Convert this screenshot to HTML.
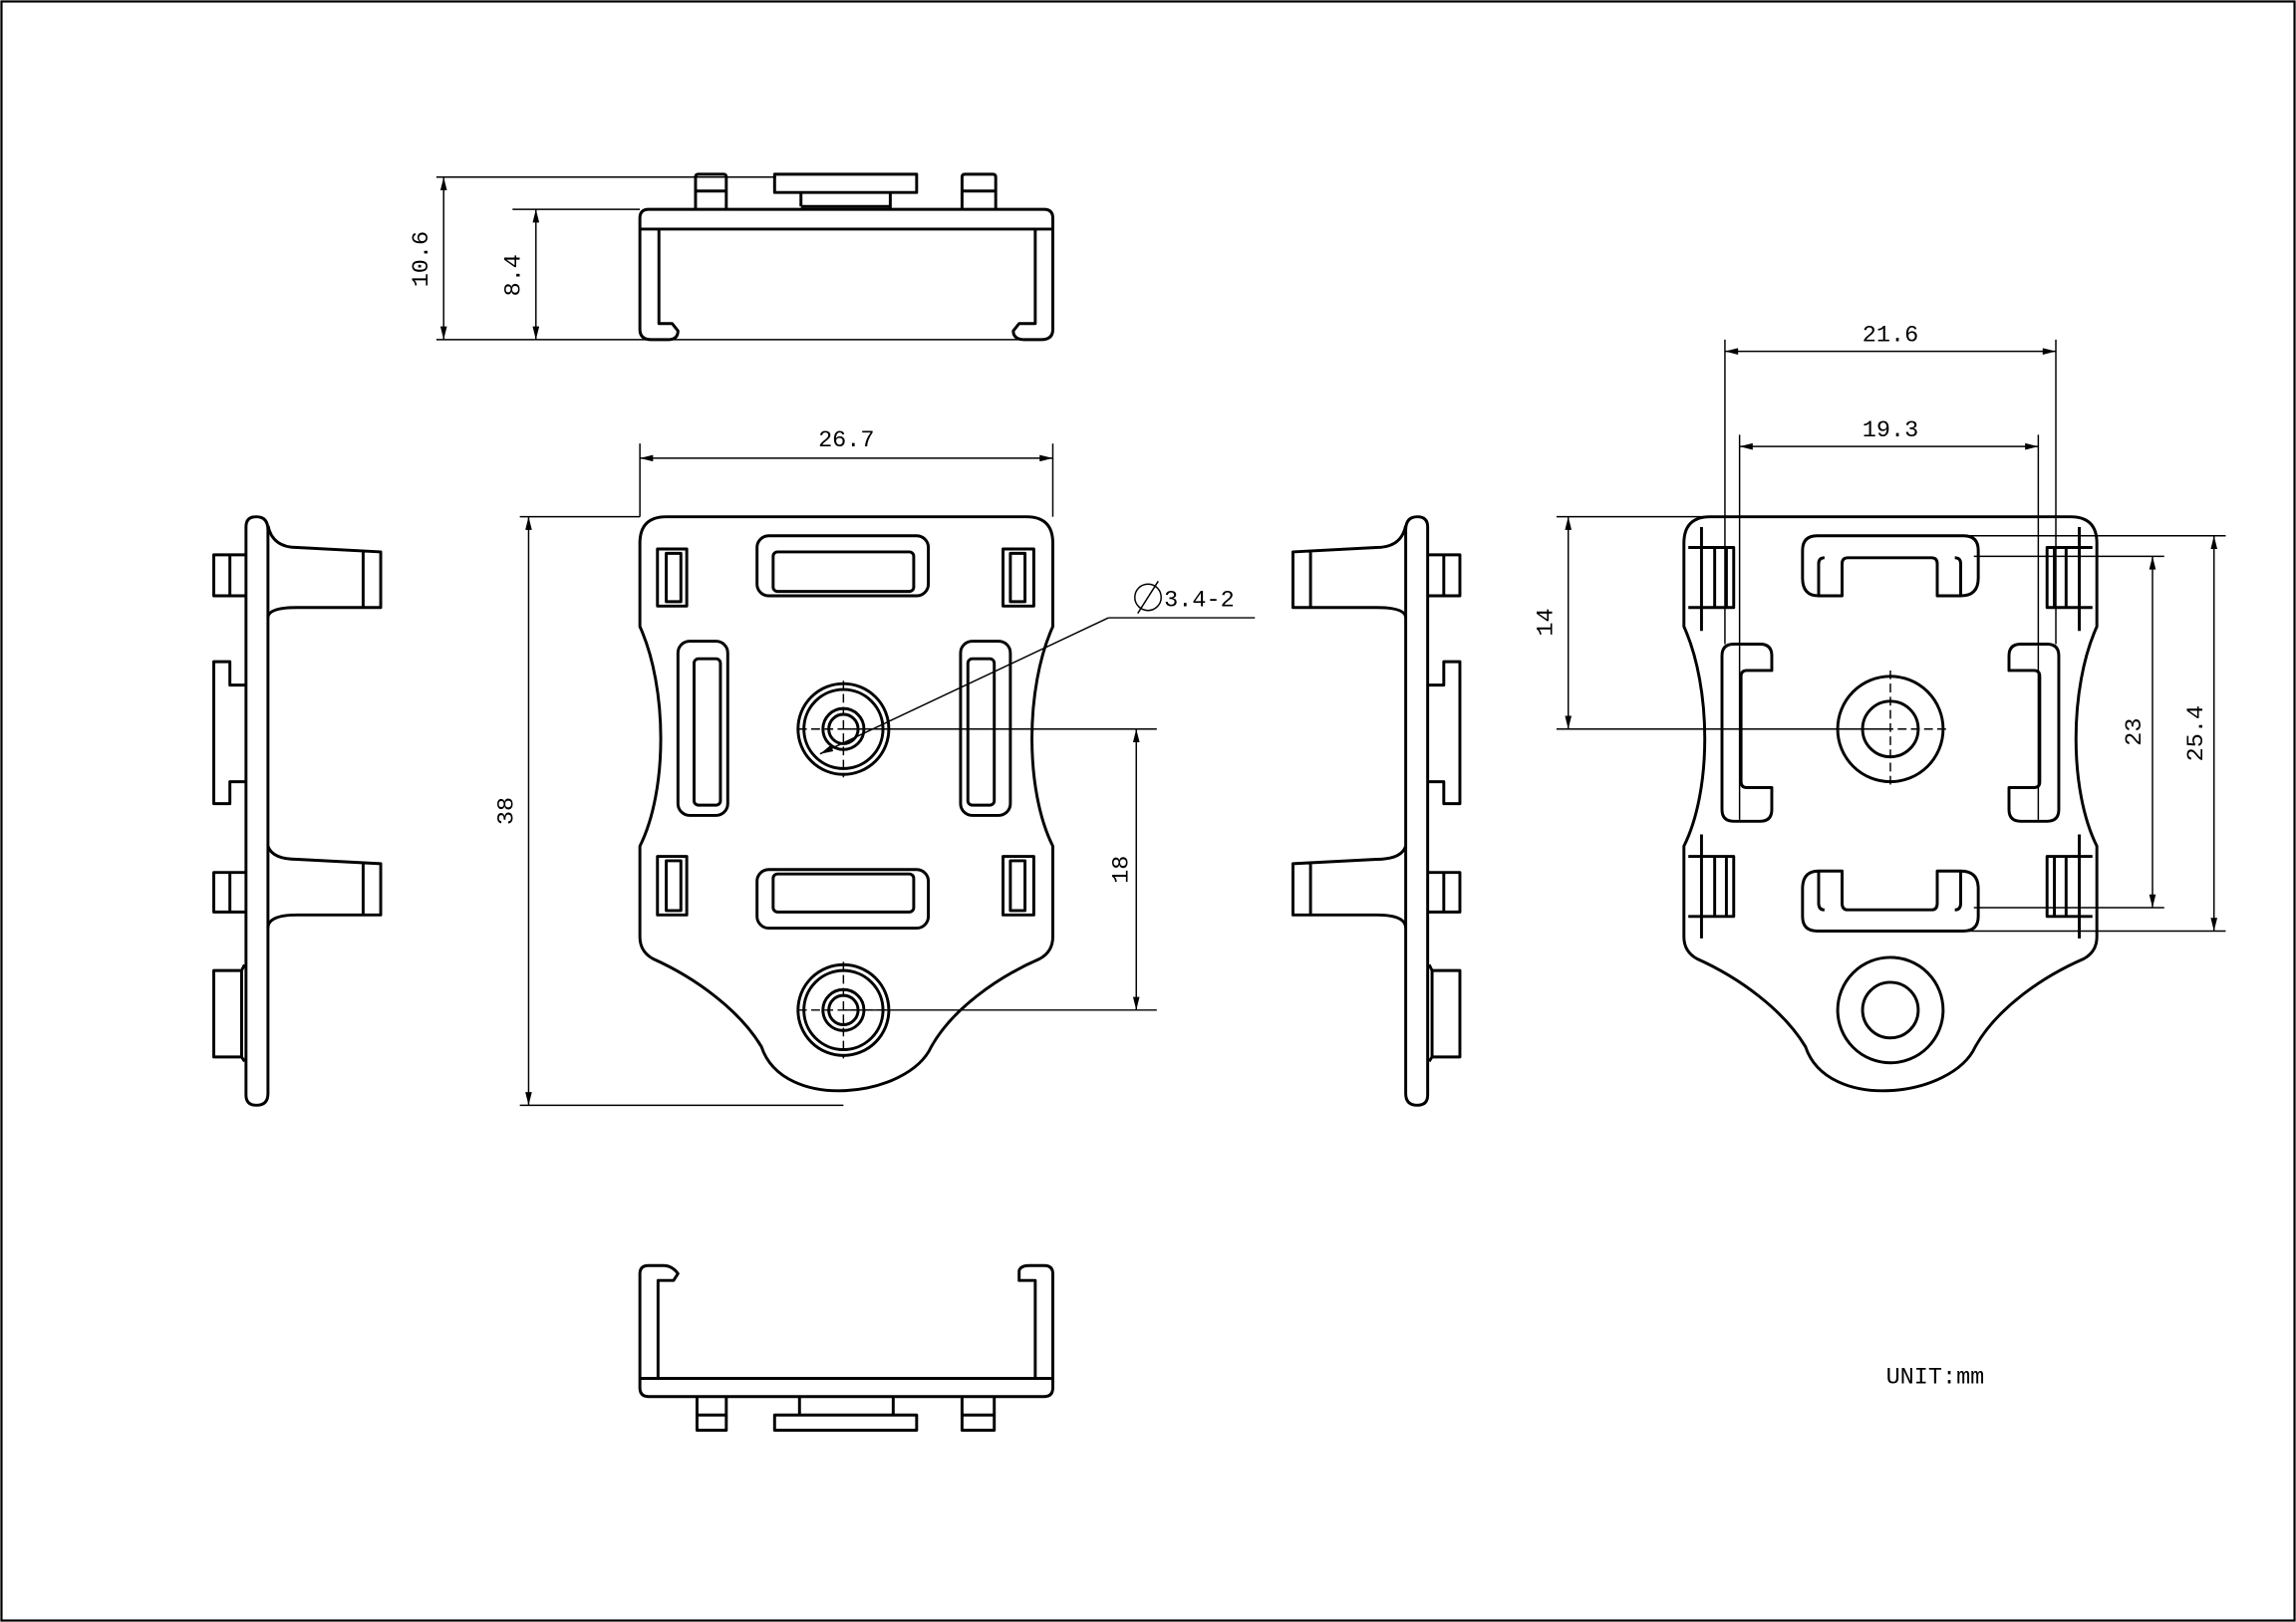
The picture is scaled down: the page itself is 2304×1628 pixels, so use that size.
<!DOCTYPE html>
<html><head><meta charset="utf-8"><style>html,body{margin:0;padding:0;background:#fff}svg{display:block}</style></head>
<body>
<svg width="2304" height="1628" viewBox="0 0 1568 1108" preserveAspectRatio="none" xmlns="http://www.w3.org/2000/svg">
<defs>
<marker id="a" viewBox="0 0 12 6" refX="12" refY="3" markerWidth="12" markerHeight="4.5" markerUnits="userSpaceOnUse" orient="auto-start-reverse"><path d="M0 0 L12 3 L0 6z" fill="#000"/></marker>
</defs>
<rect x="1" y="1" width="1566" height="1106" fill="#fff" stroke="#000" stroke-width="1.5"/>
<g fill="none" stroke="#000" stroke-width="2" stroke-linejoin="round">
<!-- FRONT -->
<path d="M455 353 L701 353 Q719 353 719 371 L719 428 C700 470 700 540 719 578 L719 640 Q719 650 710 655 C680 668 650 690 636 715 C620 750 535 760 520 715 C505 690 475 668 446 655 Q437 650 437 640 L437 578 C456 540 456 470 437 428 L437 371 Q437 353 455 353 Z"/>
<rect x="517" y="366" width="117" height="41" rx="8"/><rect x="528" y="377" width="96" height="27" rx="3"/>
<rect x="517" y="594" width="117" height="40" rx="8"/><rect x="528" y="597" width="96" height="26" rx="3"/>
<rect x="449" y="375" width="20" height="39"/><rect x="455" y="378" width="10" height="33"/>
<rect x="685" y="375" width="21" height="39"/><rect x="690" y="378" width="10" height="33"/>
<rect x="449" y="585" width="20" height="40"/><rect x="455" y="588" width="10" height="34"/>
<rect x="685" y="585" width="21" height="40"/><rect x="690" y="588" width="10" height="34"/>
<rect x="463" y="438" width="34" height="119" rx="8"/><rect x="474" y="450" width="18" height="100" rx="3"/>
<rect x="656" y="438" width="34" height="119" rx="8"/><rect x="661" y="450" width="18" height="100" rx="3"/>
<circle cx="576" cy="498" r="31"/><circle cx="576" cy="498" r="27"/><circle cx="576" cy="498" r="14"/><circle cx="576" cy="498" r="10"/>
<circle cx="576" cy="690" r="31"/><circle cx="576" cy="690" r="27"/><circle cx="576" cy="690" r="14"/><circle cx="576" cy="690" r="10"/>
<!-- TOP VIEW -->
<path d="M443 143 H713 Q719 143 719 149 V225 Q719 232 711 232 H700 Q692 232 692 226 L696 221 H707 V156.5 M443 143 Q437 143 437 149 V225 Q437 232 445 232 H456 Q463 232 463 226 L459 221 H450 V156.5 M437 156.5 H719"/>
<path d="M475 143 V121 Q475 119 477 119 H494 Q496 119 496 121 V143 M475 130.5 H496 M657 143 V121 Q657 119 659 119 H678 Q680 119 680 121 V143 M657 130.5 H680 M547 141 V131.5 H529 V119 H626 V131.5 H608 V143 M547 131.5 H608 M547 141 H608"/>
<!-- BOTTOM VIEW -->
<path d="M443 954 H713 Q719 954 719 948 V870 Q719 864.5 713 864.5 H703 Q697 864.5 696 868 L696 874.7 H707 V941.6 M443 954 Q437 954 437 948 V870 Q437 864.5 443 864.5 H453 Q459 864.5 463 870 L460 874.7 H449.4 V941.6 M437 941.6 H719"/>
<path d="M476 954 V977 H496 V954 M476 966.6 H496 M657 954 V977 H679 V954 M657 966.6 H679 M546 954 V966.6 M610 954 V966.6 M529 966.6 H626 V977 H529 Z"/>
<!-- LEFT SIDE -->
<path d="M168 360 Q168 353 175 353 Q183 353 183 362 L183 747 Q183 755 175 755 Q168 755 168 748 Z"/>
<path d="M168 379 H146 V407 H168 M157 379 V407 M168 468 H157 V452 H146 V549 H157 V534 H168 M168 596 H146 V623 H168 M157 596 V623 M167 659 L165 663 H146 V722 H165 L167 725 M165 663 V722"/>
<path d="M183 359 Q186 374 203 374 L260 377 V415 L203 415 Q183 415 183 422 M248 377 V415"/>
<path d="M183 578 Q186 587 203 587 L260 590 V625 L203 625 Q183 625 183 634 M248 590 V625"/>
<!-- RIGHT SIDE -->
<path d="M975 360 Q975 353 968 353 Q960 353 960 362 L960 747 Q960 755 968 755 Q975 755 975 748 Z"/>
<path d="M975 379 H997 V407 H975 M986 379 V407 M975 468 H986 V452 H997 V549 H986 V534 H975 M975 596 H997 V623 H975 M986 596 V623 M976 659 L978 663 H997 V722 H978 L976 725 M978 663 V722"/>
<path d="M960 359 Q957 374 940 374 L883 377 V415 L940 415 Q960 415 960 422 M895 377 V415"/>
<path d="M960 578 Q957 587 940 587 L883 590 V625 L940 625 Q960 625 960 634 M895 590 V625"/>
<!-- BACK -->
<path d="M1168 353 L1414 353 Q1432 353 1432 371 L1432 428 C1413 470 1413 540 1432 578 L1432 640 Q1432 650 1423 655 C1393 668 1363 690 1349 715 C1333 750 1248 760 1233 715 C1218 690 1188 668 1159 655 Q1150 650 1150 640 L1150 578 C1169 540 1169 470 1150 428 L1150 371 Q1150 353 1168 353 Z"/>
<path d="M1153 374 H1184 V415 H1153 M1171 374 V415 M1179 374 V415 M1162 360 V431"/>
<path d="M1153 585 H1184 V626 H1153 M1171 585 V626 M1179 585 V626 M1162 570 V641"/>
<path d="M1429 374 H1398 V415 H1429 M1411 374 V415 M1403 374 V415 M1420 360 V431"/>
<path d="M1429 585 H1398 V626 H1429 M1411 585 V626 M1403 585 V626 M1420 570 V641"/>
<path d="M1258 407 V385 Q1258 381 1262 381 H1319 Q1323 381 1323 385 V407 H1339 Q1351 407 1351 395 V376 Q1351 366 1341 366 H1241 Q1231 366 1231 376 V395 Q1231 407 1242 407 Z M1242 407 V385 Q1242 381 1246 381 M1339 407 V385 Q1339 381 1335 381"/>
<path d="M1258 595 V617 Q1258 621.5 1262 621.5 H1319 Q1323 621.5 1323 617 V595 H1339 Q1351 595 1351 607 V626 Q1351 636 1341 636 H1241 Q1231 636 1231 626 V607 Q1231 595 1242 595 Z M1242 595 V617 Q1242 621.5 1246 621.5 M1339 595 V617 Q1339 621.5 1335 621.5"/>
<path d="M1210 458 V448 Q1210 440 1202 440 H1184 Q1176 440 1176 448 V553 Q1176 561 1184 561 H1202 Q1210 561 1210 553 V538 H1193 Q1189 538 1189 534 V462 Q1189 458 1193 458 Z"/>
<path d="M1372 458 V448 Q1372 440 1380 440 H1398 Q1406 440 1406 448 V553 Q1406 561 1398 561 H1380 Q1372 561 1372 553 V538 H1389 Q1393 538 1393 534 V462 Q1393 458 1389 458 Z"/>
<circle cx="1291" cy="498" r="36"/><circle cx="1291" cy="498" r="19"/>
<circle cx="1291" cy="690" r="36"/><circle cx="1291" cy="690" r="19"/>
</g>
<!-- dimension lines -->
<g fill="none" stroke="#000" stroke-width="1">
<line x1="298" y1="121" x2="530" y2="121"/><line x1="350" y1="143" x2="437" y2="143"/><line x1="298" y1="232" x2="700" y2="232"/>
<line x1="303" y1="121" x2="303" y2="232" marker-start="url(#a)" marker-end="url(#a)"/>
<line x1="366" y1="143" x2="366" y2="232" marker-start="url(#a)" marker-end="url(#a)"/>
<line x1="437" y1="303" x2="437" y2="353"/><line x1="719" y1="303" x2="719" y2="353"/>
<line x1="437" y1="313" x2="719" y2="313" marker-start="url(#a)" marker-end="url(#a)"/>
<line x1="355" y1="353" x2="437" y2="353"/><line x1="355" y1="755" x2="576" y2="755"/>
<line x1="361" y1="353" x2="361" y2="755" marker-start="url(#a)" marker-end="url(#a)"/>
<line x1="576" y1="498" x2="790" y2="498"/><line x1="576" y1="690" x2="790" y2="690"/>
<line x1="776" y1="498" x2="776" y2="690" marker-start="url(#a)" marker-end="url(#a)"/>
<line x1="857" y1="422" x2="757" y2="422"/><line x1="757" y1="422" x2="560" y2="515" marker-end="url(#a)"/>
<line x1="576" y1="465" x2="576" y2="531" stroke-dasharray="6 3"/><line x1="545" y1="498" x2="607" y2="498" stroke-dasharray="6 3"/>
<line x1="576" y1="657" x2="576" y2="723" stroke-dasharray="6 3"/><line x1="545" y1="690" x2="607" y2="690" stroke-dasharray="6 3"/>
<line x1="1291" y1="458" x2="1291" y2="538" stroke-dasharray="6 3"/><line x1="1251" y1="498" x2="1331" y2="498" stroke-dasharray="6 3"/>
<line x1="1178" y1="232" x2="1178" y2="440"/><line x1="1404" y1="232" x2="1404" y2="440"/>
<line x1="1178" y1="240" x2="1404" y2="240" marker-start="url(#a)" marker-end="url(#a)"/>
<line x1="1188" y1="297" x2="1188" y2="560"/><line x1="1392" y1="297" x2="1392" y2="560"/>
<line x1="1188" y1="305" x2="1392" y2="305" marker-start="url(#a)" marker-end="url(#a)"/>
<line x1="1063" y1="353" x2="1168" y2="353"/><line x1="1063" y1="498" x2="1291" y2="498"/>
<line x1="1071" y1="353" x2="1071" y2="498" marker-start="url(#a)" marker-end="url(#a)"/>
<line x1="1348" y1="380" x2="1478" y2="380"/><line x1="1348" y1="620" x2="1478" y2="620"/>
<line x1="1470" y1="380" x2="1470" y2="620" marker-start="url(#a)" marker-end="url(#a)"/>
<line x1="1340" y1="366" x2="1520" y2="366"/><line x1="1340" y1="636" x2="1520" y2="636"/>
<line x1="1512" y1="366" x2="1512" y2="636" marker-start="url(#a)" marker-end="url(#a)"/>
<circle cx="784" cy="408" r="9"/><line x1="777" y1="419" x2="791" y2="397"/>
</g>
<g font-family="Liberation Mono, monospace" font-size="16" fill="#000">
<text x="292" y="177" transform="rotate(-90 292 177)" text-anchor="middle">10.6</text>
<text x="355" y="188" transform="rotate(-90 355 188)" text-anchor="middle">8.4</text>
<text x="578" y="305" text-anchor="middle">26.7</text>
<text x="350" y="554" transform="rotate(-90 350 554)" text-anchor="middle">38</text>
<text x="770" y="594" transform="rotate(-90 770 594)" text-anchor="middle">18</text>
<text x="795" y="414">3.4-2</text>
<text x="1291" y="233" text-anchor="middle">21.6</text>
<text x="1291" y="298" text-anchor="middle">19.3</text>
<text x="1060" y="425" transform="rotate(-90 1060 425)" text-anchor="middle">14</text>
<text x="1462" y="500" transform="rotate(-90 1462 500)" text-anchor="middle">23</text>
<text x="1504" y="501" transform="rotate(-90 1504 501)" text-anchor="middle">25.4</text>
<text x="1288" y="945">UNIT:mm</text>
</g>
</svg>
</body></html>
